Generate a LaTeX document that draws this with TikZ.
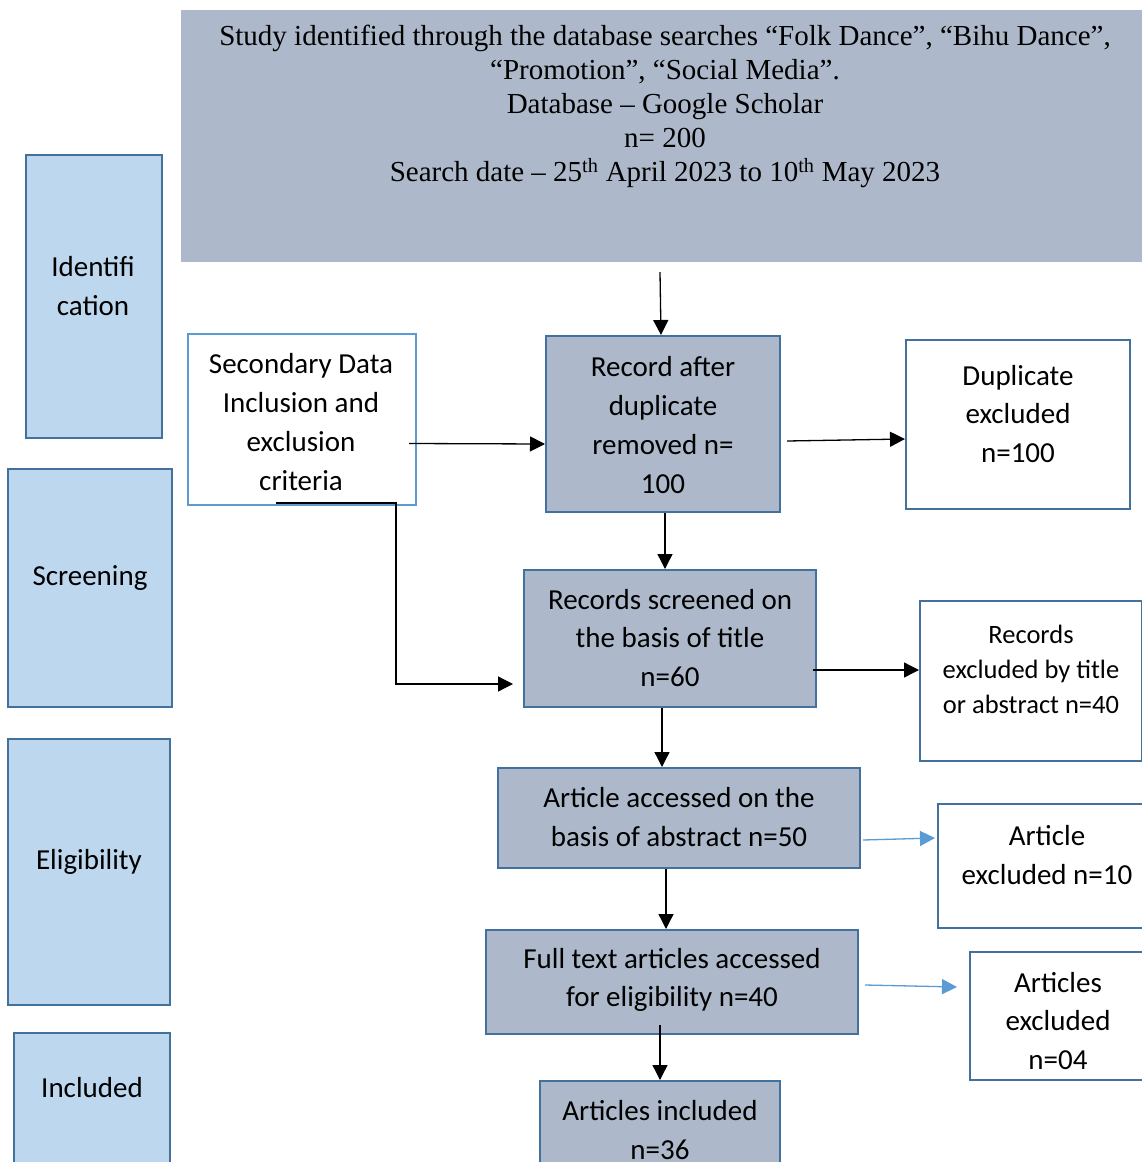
\documentclass[tikz,border=0pt]{standalone}
\usepackage{fontspec}
\setmainfont{Carlito}
\newfontfamily\tnr{Liberation Serif}
\usetikzlibrary{arrows.meta}
\definecolor{gbox}{HTML}{ADB9CA}
\definecolor{lbox}{HTML}{BDD7EE}
\definecolor{dborder}{HTML}{41719C}
\definecolor{lborder}{HTML}{5B9BD5}
\begin{document}
\begin{tikzpicture}[x=1pt,y=-1pt,
  box/.style={rectangle, inner sep=0pt, draw=dborder, line width=2pt},
  graybox/.style={box, fill=gbox},
  stagebox/.style={box, fill=lbox},
  whitebox/.style={box, fill=white},
  txt/.style={align=center, inner sep=0pt, font=\fontsize{29}{38.7}\selectfont},
  smalltxt/.style={align=center, inner sep=0pt, font=\fontsize{26.5}{35}\selectfont},
  arr/.style={-{Triangle[length=15pt,width=15pt]}, line width=1.3pt},
  barr/.style={arr, draw=lborder, fill=lborder}]
\useasboundingbox (0,0) rectangle (1142,1162);
\begin{scope}
\clip (0,0) rectangle (1142,1162);
% top box
\node[fill=gbox, inner sep=0pt, minimum width=969pt, minimum height=252pt] (top) at (665.5,136) {};
\node[align=center, inner sep=0pt, font=\tnr\fontsize{29}{34}\selectfont] (topT) at (665,106)
 {Study identified through the database searches “Folk Dance”, “Bihu Dance”,\\
  “Promotion”, “Social Media”.\\
  Database – Google Scholar\\
  n= 200\\
  Search date – 25\textsuperscript{th} April 2023 to 10\textsuperscript{th} May 2023};
% stage boxes
\node[stagebox, minimum width=136pt, minimum height=283pt] (ident) at (94,296.5) {};
\node[txt] (identT) at (93,286) {Identifi\\cation};
\node[stagebox, minimum width=164pt, minimum height=238pt] (screen) at (90,588) {};
\node[txt] (screenT) at (90,578) {Screening};
\node[stagebox, minimum width=162pt, minimum height=266pt] (elig) at (89,872) {};
\node[txt] (eligT) at (89,862) {Eligibility};
\node[stagebox, minimum width=156pt, minimum height=142pt] (incl) at (92,1104) {};
\node[txt] (inclT) at (92,1088) {Included};
% secondary
\node[box, draw=lborder, fill=white, minimum width=228pt, minimum height=171pt] (sec) at (302,419.5) {};
\node[txt] (secT) at (301,422) {Secondary Data\\Inclusion and\\exclusion\\criteria};
% main column
\node[graybox, minimum width=234pt, minimum height=176pt] (rec) at (663,424) {};
\node[txt] (recT) at (663,425) {Record after\\duplicate\\removed n=\\100};
\node[graybox, minimum width=292pt, minimum height=137pt] (scr) at (670,638.5) {};
\node[txt] (scrT) at (670,638) {Records screened on\\the basis of title\\n=60};
\node[graybox, minimum width=362pt, minimum height=100pt] (acc) at (679,818) {};
\node[txt] (accT) at (679,817) {Article accessed on the\\basis of abstract n=50};
\node[graybox, minimum width=372pt, minimum height=104pt] (ful) at (672,982) {};
\node[txt] (fulT) at (672,980) {Full text articles accessed\\for eligibility n=40};
\node[graybox, minimum width=240pt, minimum height=99pt] (inc) at (660,1130.5) {};
\node[txt] (incT) at (660,1130) {Articles included\\n=36};
% exclusion boxes
\node[whitebox, minimum width=224pt, minimum height=169pt] (dup) at (1018,424.5) {};
\node[txt] (dupT) at (1018,414) {Duplicate\\excluded\\n=100};
\node[whitebox, minimum width=222pt, minimum height=160pt] (rex) at (1031,681) {};
\node[smalltxt] (rexT) at (1031,669) {Records\\excluded by title\\or abstract n=40};
\node[whitebox, minimum width=212pt, minimum height=124pt] (aex) at (1044,866) {};
\node[txt] (aexT) at (1047,855) {Article\\excluded n=10};
\node[whitebox, minimum width=180pt, minimum height=128pt] (fex) at (1060,1016) {};
\node[txt] (fexT) at (1058,1021) {Articles\\excluded\\n=04};
% arrows
\draw[arr] ([xshift=-5.5pt,yshift=-10pt]top.south) -- ([xshift=-2pt]rec.north);
\draw[arr] ([xshift=-8pt,yshift=-24pt]sec.east) -- ([yshift=-20pt]rec.west);
\draw[arr] ([xshift=6pt,yshift=-17pt]rec.east) -- ([yshift=-14.5pt]dup.west);
\draw[arr] ([xshift=2pt]rec.south) -- ([xshift=-5pt]scr.north);
\draw[arr] ([xshift=-26pt,yshift=3pt]sec.south) -- ++(120,0) |- ([xshift=-10pt,yshift=-45.5pt]scr.west);
\draw[arr] ([xshift=-4pt,yshift=-31.5pt]scr.east) -- ([yshift=11pt]rex.west);
\draw[arr] ([xshift=-8pt]scr.south) -- ([xshift=-17pt]acc.north);
\draw[arr] ([xshift=-13pt]acc.south) -- ([xshift=-6pt]ful.north);
\draw[arr] ([xshift=-12pt,yshift=10pt]ful.south) -- (inc.north);
\draw[barr] ([xshift=2pt,yshift=-22pt]acc.east) -- ([xshift=-2pt,yshift=28pt]aex.west);
\draw[barr] ([xshift=6pt,yshift=-3pt]ful.east) -- ([xshift=-12pt,yshift=29pt]fex.west);
\end{scope}
\end{tikzpicture}
\end{document}
